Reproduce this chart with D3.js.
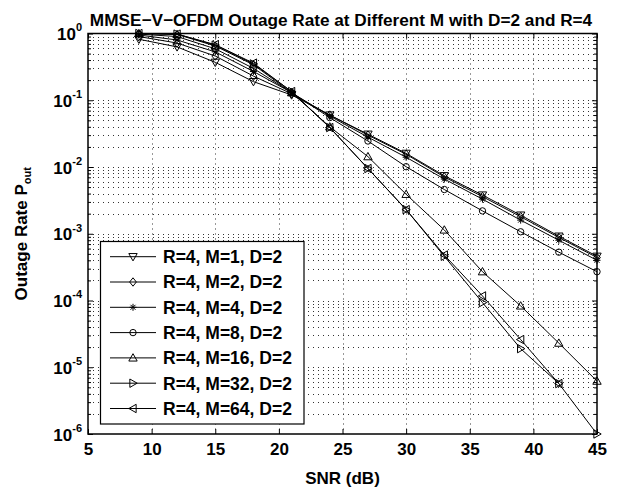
<!DOCTYPE html>
<html>
<head>
<meta charset="utf-8">
<script src="https://cdn.jsdelivr.net/npm/d3@7"></script>
<style>
  body { margin: 0; background: #fff; }
  svg { font-family: "Liberation Sans", Arial, Helvetica, sans-serif; font-weight: bold; }
</style>
</head>
<body>
<svg id="chart" width="625" height="490"></svg>
<script>
// SNR points (dB)
let snr = [9, 12, 15, 18, 21, 24, 27, 30, 33, 36, 39, 42, 45];

// outage rate per M
let outM1  = [0.82, 0.63, 0.37, 0.19, 0.12, 0.060, 0.031, 0.016, 0.0074, 0.0038, 0.0019, 0.00092, 0.00046];
let outM2  = [0.90, 0.72, 0.46, 0.23, 0.125, 0.060, 0.030, 0.0155, 0.0071, 0.0036, 0.0018, 0.00088, 0.00044];
let outM4  = [0.95, 0.80, 0.53, 0.27, 0.13, 0.058, 0.028, 0.014, 0.0066, 0.0033, 0.0016, 0.00080, 0.00040];
let outM8  = [0.98, 0.90, 0.59, 0.30, 0.13, 0.055, 0.0245, 0.0101, 0.0046, 0.0022, 0.00107, 0.00053, 0.00027];
let outM16 = [1.0, 0.97, 0.65, 0.34, 0.13, 0.040, 0.0143, 0.0039, 0.00114, 0.00027, 0.000083, 0.000023, 0.0000062];
let outM32 = [1.0, 0.98, 0.67, 0.35, 0.135, 0.039, 0.0095, 0.0023, 0.00046, 0.000093, 0.000019, 0.0000057, 0.0000010];
let outM64 = [1.0, 0.98, 0.68, 0.36, 0.135, 0.039, 0.0095, 0.0023, 0.00048, 0.000117, 0.000026, 0.0000057, null];

let legendLabels = ["R=4, M=1, D=2", "R=4, M=2, D=2", "R=4, M=4, D=2", "R=4, M=8, D=2",
                    "R=4, M=16, D=2", "R=4, M=32, D=2", "R=4, M=64, D=2"];
let markerTypes = ["tdown", "diamond", "star", "circle", "tup", "tright", "tleft"];
let seriesValues = [outM1, outM2, outM4, outM8, outM16, outM32, outM64];

let xTicks = [5, 10, 15, 20, 25, 30, 35, 40, 45];
let yDecades = [-6, -5, -4, -3, -2, -1, 0];

let svg = d3.select('#chart');
let m = {l: 88, r: 597, t: 33.5, b: 434};
let fontFam = '"Liberation Sans", Arial, sans-serif';

let x = d3.scaleLinear().domain([5, 45]).range([m.l, m.r]);
let y = d3.scaleLog().domain([1e-6, 1]).range([m.b, m.t]);

// minor values in each decade
let minorVals = [];
yDecades.slice(0, -1).forEach(e => {
    for (let k = 2; k <= 9; k++) minorVals.push(k * Math.pow(10, e));
});

// grid
let grid = svg.append('g').attr('stroke', '#333').attr('stroke-width', 1).attr('stroke-dasharray', '1,4');
grid.selectAll('.gx').data(xTicks.slice(1, -1)).join('line')
    .attr('x1', d => Math.round(x(d)) + 0.5).attr('x2', d => Math.round(x(d)) + 0.5)
    .attr('y1', m.t).attr('y2', m.b);
grid.selectAll('.gy').data(yDecades.slice(1, -1).map(e => Math.pow(10, e)).concat(minorVals)).join('line')
    .attr('x1', m.l).attr('x2', m.r)
    .attr('y1', d => Math.round(y(d)) + 0.5).attr('y2', d => Math.round(y(d)) + 0.5);

// axes
let axes = svg.append('g');
let xBottom = axes.append('g').attr('transform', `translate(0,${m.b})`)
    .call(d3.axisBottom(x).tickValues(xTicks).tickSize(-5).tickPadding(9).tickFormat(d3.format('d')));
axes.append('g').attr('transform', `translate(0,${m.t})`)
    .call(d3.axisTop(x).tickValues(xTicks).tickSize(-5).tickFormat(''));
let yLeft = axes.append('g').attr('transform', `translate(${m.l},0)`)
    .call(d3.axisLeft(y).tickValues(yDecades.map(e => Math.pow(10, e))).tickSize(-5).tickFormat(''));
axes.append('g').attr('transform', `translate(${m.l},0)`)
    .call(d3.axisLeft(y).tickValues(minorVals).tickSize(-3).tickFormat(''));
axes.append('g').attr('transform', `translate(${m.r},0)`)
    .call(d3.axisRight(y).tickValues(yDecades.map(e => Math.pow(10, e))).tickSize(-5).tickFormat(''));
axes.append('g').attr('transform', `translate(${m.r},0)`)
    .call(d3.axisRight(y).tickValues(minorVals).tickSize(-3).tickFormat(''));
axes.selectAll('.domain').remove();
axes.selectAll('line').attr('stroke', '#000');
xBottom.selectAll('text').attr('font-size', 17).attr('font-weight', 'bold').attr('fill', '#000')
    .attr('font-family', fontFam);

// y labels 10^e
yLeft.selectAll('.tick').each(function(d) {
    let t = d3.select(this).select('text').text(null)
        .attr('font-size', 17).attr('font-weight', 'bold').attr('fill', '#000')
        .attr('font-family', fontFam).attr('text-anchor', 'end')
        .attr('x', -6).attr('dy', '0.36em');
    t.append('tspan').text('10');
    t.append('tspan').attr('font-size', 11).attr('dy', '-0.8em').text(Math.round(Math.log10(d)));
});

// box
svg.append('rect').attr('x', m.l).attr('y', m.t).attr('width', m.r - m.l).attr('height', m.b - m.t)
    .attr('fill', 'none').attr('stroke', '#000').attr('stroke-width', 1.5);

// markers
function markerPath(type) {
    let a = 4.2;
    switch (type) {
        case 'tdown': return `M${-a},${-a*0.75}L${a},${-a*0.75}L0,${a}Z`;
        case 'tup': return `M${-a},${a*0.75}L${a},${a*0.75}L0,${-a}Z`;
        case 'tright': return `M${-a*0.75},${-a}L${-a*0.75},${a}L${a},0Z`;
        case 'tleft': return `M${a*0.75},${-a}L${a*0.75},${a}L${-a},0Z`;
        case 'diamond': return `M0,${-a}L${a*0.8},0L0,${a}L${-a*0.8},0Z`;
        case 'circle': return d3.symbol(d3.symbolCircle, 32)();
        case 'star': {
            let r = 3.5, q = r * 0.7071;
            return `M${-r},0L${r},0M0,${-r}L0,${r}M${-q},${-q}L${q},${q}M${-q},${q}L${q},${-q}`;
        }
    }
}

let lineGen = d3.line().defined(d => d.v != null).x(d => x(d.s)).y(d => y(d.v));
let plot = svg.append('g');
seriesValues.forEach((vals, i) => {
    let pts = snr.map((s, j) => ({s: s, v: vals[j]}));
    plot.append('path').datum(pts).attr('d', lineGen)
        .attr('fill', 'none').attr('stroke', '#000').attr('stroke-width', 1);
    plot.selectAll(null).data(pts.filter(p => p.v != null)).join('path')
        .attr('transform', p => `translate(${x(p.s)},${y(p.v)})`)
        .attr('d', markerPath(markerTypes[i]))
        .attr('fill', 'none').attr('stroke', '#000').attr('stroke-width', 1);
});

// legend
let lg = svg.append('g');
lg.append('rect').attr('x', 100.5).attr('y', 241.5).attr('width', 203.5).attr('height', 182.5)
    .attr('fill', '#fff').attr('stroke', '#000').attr('stroke-width', 1.2);
legendLabels.forEach((lab, i) => {
    let ly = 256.7 + i * 25.3;
    lg.append('line').attr('x1', 110).attr('x2', 156).attr('y1', ly).attr('y2', ly)
        .attr('stroke', '#000').attr('stroke-width', 1);
    lg.append('path').attr('transform', `translate(133,${ly})`).attr('d', markerPath(markerTypes[i]))
        .attr('fill', 'none').attr('stroke', '#000').attr('stroke-width', 1);
    lg.append('text').attr('x', 163).attr('y', ly).attr('dy', '0.36em')
        .attr('font-size', 17.5).text(lab);
});

// title and axis labels
svg.append('text').attr('x', 341).attr('y', 26).attr('text-anchor', 'middle')
    .attr('font-size', 17.2).text('MMSE\u2212V\u2212OFDM Outage Rate at Different M with D=2 and R=4');
svg.append('text').attr('x', (m.l + m.r) / 2).attr('y', 484).attr('text-anchor', 'middle')
    .attr('font-size', 17).text('SNR (dB)');
let yl = svg.append('text').attr('transform', `translate(27,${(m.t + m.b) / 2}) rotate(-90)`)
    .attr('text-anchor', 'middle').attr('font-size', 17);
yl.append('tspan').text('Outage Rate P');
yl.append('tspan').attr('font-size', 11).attr('dy', '0.35em').text('out');
</script>
</body>
</html>
